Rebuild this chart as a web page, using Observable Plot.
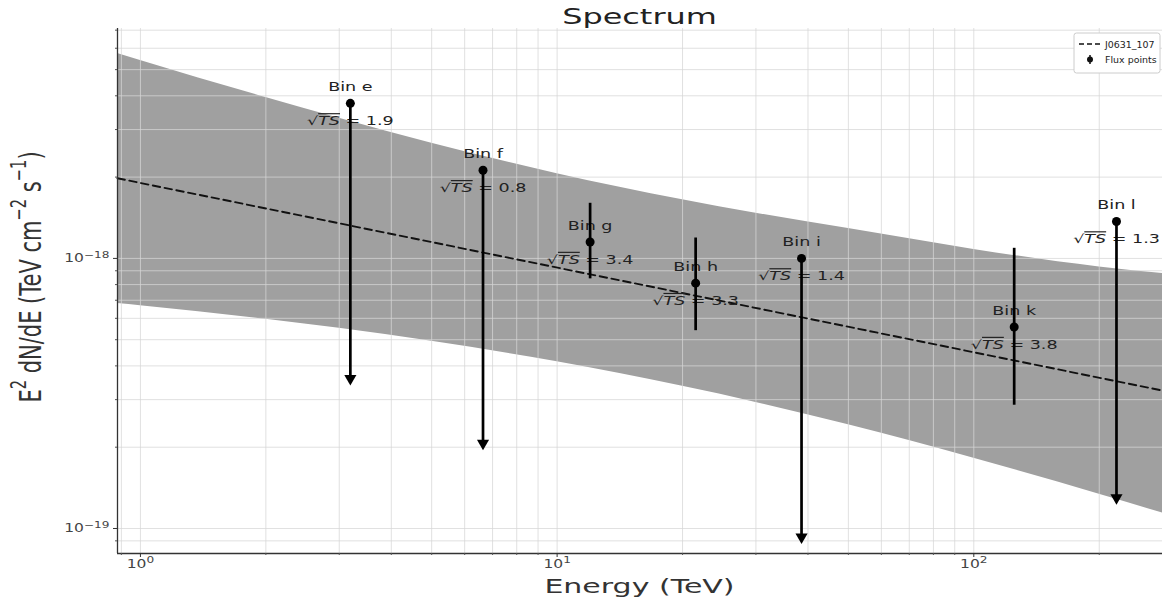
<!DOCTYPE html>
<html>
<head>
<meta charset="utf-8">
<script src="https://cdn.jsdelivr.net/npm/d3@7"></script>
<script src="https://cdn.jsdelivr.net/npm/@observablehq/plot@0.6"></script>
<style>
html, body { margin: 0; padding: 0; background: #fff; }
#chart svg { display: block; }
</style>
</head>
<body>
<div id="chart"></div>
<script>
// ---------- data ----------
const binNames = ["Bin e", "Bin f", "Bin g", "Bin h", "Bin i", "Bin k", "Bin l"];
const binEnergy = [3.19, 6.64, 12.0, 21.5, 38.6, 125, 220];           // TeV
const binFlux = [3.75e-18, 2.12e-18, 1.15e-18, 8.1e-19, 1.0e-18, 5.57e-19, 1.37e-18];
const binFluxLow = [3.59e-19, 2.07e-19, 8.4e-19, 5.4e-19, 9.3e-20, 2.86e-19, 1.30e-19];
const binFluxHigh = [3.75e-18, 2.12e-18, 1.60e-18, 1.19e-18, 1.0e-18, 1.09e-18, 1.37e-18];
const binIsUpperLimit = [true, true, false, false, true, false, true];
const binSqrtTS = [1.9, 0.8, 3.4, 3.3, 1.4, 3.8, 1.3];

const bandEnergy = [0.881, 1, 2, 3, 5, 10, 20, 30, 50, 100, 200, 283.7];
const bandLow  = [6.81e-19, 6.68e-19, 5.95e-19, 5.51e-19, 4.93e-19, 4.14e-19, 3.36e-19, 2.93e-19, 2.42e-19, 1.82e-19, 1.34e-19, 1.14e-19];
const bandHigh = [5.74e-18, 5.41e-18, 3.94e-18, 3.30e-18, 2.67e-18, 2.06e-18, 1.65e-18, 1.47e-18, 1.29e-18, 1.08e-18, 9.3e-19, 8.8e-19];

const modelEnergy = [0.881, 283.7];
const modelFlux = [1.98e-18, 3.24e-19];

const xMajorTicks = [1, 10, 100];
const xTickExponents = ["0", "1", "2"];
const yMajorTicks = [1e-19, 1e-18];
const yTickExponents = ["\u221219", "\u221218"];
const xMinorTicks = [0.9, 2, 3, 4, 5, 6, 7, 8, 9, 20, 30, 40, 50, 60, 70, 80, 90, 200];
const yMinorTicks = [9e-20, 2e-19, 3e-19, 4e-19, 5e-19, 6e-19, 7e-19, 8e-19, 9e-19, 2e-18, 3e-18, 4e-18, 5e-18, 6e-18, 7e-18];

const legendLabels = ["J0631_107", "Flux points"];

const xDomain = [0.881, 283.7];
const yDomain = [8.08e-20, 7.1e-18];

// ---------- tables ----------
const band = bandEnergy.map((e, i) => ({e, lo: bandLow[i], hi: bandHigh[i]}));
const model = modelEnergy.map((e, i) => ({e, f: modelFlux[i]}));
const bins = binNames.map((name, i) => ({
  name, e: binEnergy[i], f: binFlux[i], lo: binFluxLow[i], hi: binFluxHigh[i],
  ul: binIsUpperLimit[i], ts: binSqrtTS[i]
}));

// ---------- layout ----------
const W = 1173, H = 604, mL = 117, mR = 11, mT = 28, mB = 51;
const frameW = W - mL - mR, frameH = H - mT - mB;
const gridColor = "#d6d6d6";

const plot = Plot.plot({
  width: W, height: H,
  marginLeft: mL, marginRight: mR, marginTop: mT, marginBottom: mB,
  x: {type: "log", domain: xDomain, axis: null},
  y: {type: "log", domain: yDomain, axis: null},
  style: {fontFamily: "DejaVu Sans", background: "#fff", overflow: "visible"},
  marks: [
    Plot.areaY(band, {x: "e", y1: "lo", y2: "hi", fill: "#a0a0a0", curve: "monotone-x"}),
    Plot.ruleX([...xMinorTicks, ...xMajorTicks], {stroke: gridColor, strokeOpacity: 0.75, strokeWidth: 1}),
    Plot.ruleY([...yMinorTicks, ...yMajorTicks], {stroke: gridColor, strokeOpacity: 0.75, strokeWidth: 1}),
    Plot.line(model, {x: "e", y: "f", stroke: "#111", strokeWidth: 1.9, strokeDasharray: "7.5,4.5"}),
    // text groups, in order: 0 bin labels, 1 sqrt(TS) labels, 2 x tick labels, 3 y tick labels
    Plot.text(bins, {x: "e", y: "f", text: "name", dy: -16, fontSize: 11.7, fill: "#222"}),
    Plot.text(bins, {x: "e", y: "f", text: d => d.ts.toFixed(1), dy: 18, fontSize: 11.7, fill: "#222"}),
    Plot.text(xMajorTicks, {x: d => d, text: (d, i) => xTickExponents[i], frameAnchor: "bottom", dy: 14, fontSize: 11.5, fill: "#444"}),
    Plot.text(yMajorTicks, {y: d => d, text: (d, i) => yTickExponents[i], frameAnchor: "left", dx: -8, textAnchor: "end", fontSize: 11.5, fill: "#444"}),
    Plot.ruleX(bins, {x: "e", y1: "lo", y2: d => d.ul ? d.f : d.hi, stroke: "#000", strokeWidth: 2.7}),
    Plot.dot(bins, {x: "e", y: "f", r: 4.5, fill: "#000", stroke: null}),
    Plot.dot(bins.filter(d => d.ul), {x: "e", y: "lo", symbol: "triangle", rotate: 180, r: 4.5, fill: "#000", stroke: null}),
    // spines
    Plot.ruleX([xDomain[0]], {stroke: "#333", strokeWidth: 1.3}),
    Plot.ruleY([yDomain[0]], {stroke: "#333", strokeWidth: 1.3}),
    // tick marks
    Plot.ruleX(xMajorTicks, {insetTop: frameH - 4, dy: 4, stroke: "#333"}),
    Plot.ruleX(xMinorTicks, {insetTop: frameH - 2, dy: 2, stroke: "#555"}),
    Plot.ruleY(yMajorTicks, {insetRight: frameW - 4, dx: -4, stroke: "#333"}),
    Plot.ruleY(yMinorTicks, {insetRight: frameW - 2, dx: -2, stroke: "#555"})
  ]
});

document.getElementById("chart").appendChild(plot);
const svg = d3.select(plot);
const NS = "http://www.w3.org/2000/svg";
const textGroups = plot.querySelectorAll('g[aria-label="text"]');
const binLabelTexts = textGroups[0].querySelectorAll("text");
const tsTexts = textGroups[1].querySelectorAll("text");
const xTickTexts = textGroups[2].querySelectorAll("text");
const yTickTexts = textGroups[3].querySelectorAll("text");

// tick labels: 10 + superscript exponent
[...xTickTexts, ...yTickTexts].forEach(t => {
  const exp = t.textContent;
  t.textContent = "10";
  const s = document.createElementNS(NS, "tspan");
  s.setAttribute("dy", "-0.5em");
  s.setAttribute("font-size", "0.78em");
  s.textContent = exp;
  t.appendChild(s);
});

// sqrt(TS) labels
tsTexts.forEach(t => {
  const v = t.textContent;
  t.textContent = "\u221A";
  const s = document.createElementNS(NS, "tspan");
  s.setAttribute("font-style", "italic");
  s.setAttribute("text-decoration", "overline");
  s.textContent = "TS";
  t.appendChild(s);
  t.appendChild(document.createTextNode(" = " + v));
});

// title, axis labels
svg.append("text").attr("class", "st-title")
  .attr("x", mL + frameW / 2).attr("y", 24).attr("text-anchor", "middle")
  .attr("font-size", 21).attr("fill", "#222").text("Spectrum");
svg.append("text").attr("class", "st-xlabel")
  .attr("x", mL + frameW / 2).attr("y", 593).attr("text-anchor", "middle")
  .attr("font-size", 20).attr("fill", "#333").text("Energy (TeV)");
const yl = svg.append("text")
  .attr("transform", "translate(31,277) scale(1.45,1) rotate(-90)")
  .attr("text-anchor", "middle").attr("dominant-baseline", "central")
  .attr("font-size", 21).attr("fill", "#333");
yl.append("tspan").text("E");
yl.append("tspan").attr("baseline-shift", "super").attr("font-size", "70%").text("2");
yl.append("tspan").text(" dN/dE (TeV cm");
yl.append("tspan").attr("baseline-shift", "super").attr("font-size", "70%").text("\u22122");
yl.append("tspan").text(" s");
yl.append("tspan").attr("baseline-shift", "super").attr("font-size", "70%").text("\u22121");
yl.append("tspan").text(")");

// legend
const lx = W - mR - 88, ly = mT + 5;
const lg = svg.append("g").attr("text-anchor", "start");
lg.append("rect").attr("x", lx).attr("y", ly).attr("width", 86).attr("height", 40)
  .attr("rx", 2.5).attr("fill", "#fff").attr("stroke", "#cccccc");
lg.append("line").attr("x1", lx + 5).attr("x2", lx + 26).attr("y1", ly + 11).attr("y2", ly + 11)
  .attr("stroke", "#111").attr("stroke-width", 1.7).attr("stroke-dasharray", "5,3");
lg.append("text").attr("class", "st-legend").attr("x", lx + 31).attr("y", ly + 14.5)
  .attr("font-size", 9).attr("fill", "#222").text(legendLabels[0]);
lg.append("line").attr("x1", lx + 16).attr("x2", lx + 16).attr("y1", ly + 22).attr("y2", ly + 31)
  .attr("stroke", "#111").attr("stroke-width", 1.5);
lg.append("circle").attr("cx", lx + 16).attr("cy", ly + 26.5).attr("r", 3).attr("fill", "#111");
lg.append("text").attr("class", "st-legend").attr("x", lx + 31).attr("y", ly + 30)
  .attr("font-size", 9).attr("fill", "#222").text(legendLabels[1]);

// horizontal stretch of text, as in the reference
function stretch(nodes, k) {
  nodes.forEach(t => {
    const L = t.getComputedTextLength();
    t.setAttribute("textLength", (L * k).toFixed(2));
    t.setAttribute("lengthAdjust", "spacingAndGlyphs");
  });
}
stretch(plot.querySelectorAll(".st-title"), 1.52);
stretch(plot.querySelectorAll(".st-xlabel"), 1.5);
stretch(plot.querySelectorAll(".st-legend"), 1.05);
stretch([...binLabelTexts, ...tsTexts], 1.5);
stretch([...xTickTexts, ...yTickTexts], 1.35);
</script>
</body>
</html>
